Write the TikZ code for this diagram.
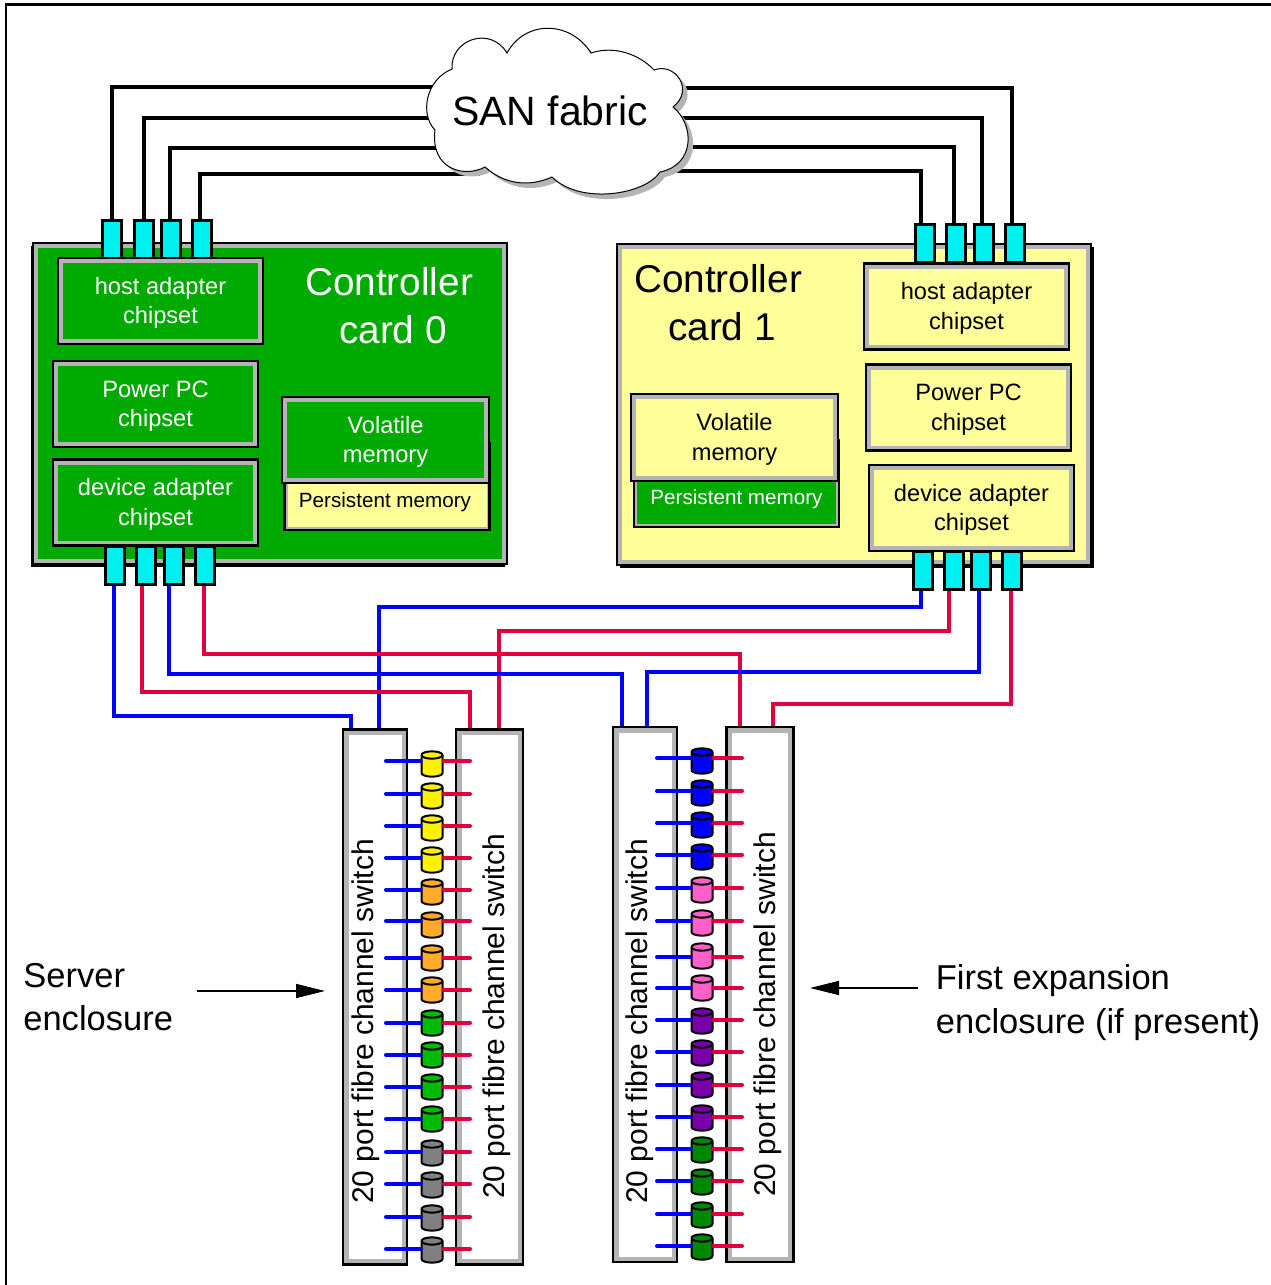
\documentclass[tikz,border=0pt]{standalone}
\usepackage{fontspec}
\setmainfont{Liberation Sans}
\usetikzlibrary{arrows.meta,shapes.geometric}
\definecolor{vert}{HTML}{00AA00}
\definecolor{jaune}{HTML}{FFFF99}
\definecolor{cyanport}{HTML}{00F0F0}
\definecolor{bezel}{HTML}{B4B4B4}
\definecolor{bleu}{HTML}{0000FF}
\definecolor{rouge}{HTML}{E0003C}
\definecolor{orange1}{HTML}{FFAA2B}
\definecolor{rose}{HTML}{FF5FC8}
\definecolor{vert1}{HTML}{00BB00}
\definecolor{gris}{HTML}{808080}
\definecolor{violet1}{HTML}{7700AA}
\definecolor{vert2}{HTML}{008800}
\newcommand\bigfont{\fontsize{22.05}{27.3}\selectfont}
\newcommand\chipfont{\fontsize{13.45}{16.9}\selectfont}
\newcommand\memfont{\fontsize{11.75}{14}\selectfont}
\newcommand\swfont{\fontsize{17.05}{20}\selectfont}
\newcommand\sidefont{\fontsize{19.65}{24.9}\selectfont}
\newcommand\chiptop{\rule{0pt}{12pt}}

\begin{document}
\begin{tikzpicture}[x=.02cm,y=-.02cm,
        sized/.style 2 args={minimum width=#1*.02cm,minimum height=#2*.02cm,inner sep=0pt},
        bevel/.style 2 args={draw=black,line width=#1,path picture={\draw[bezel,line width=#2] (path picture bounding box.south west) rectangle (path picture bounding box.north east);}},
        card/.style={bevel={.03cm}{.2cm},sized={474}{321}},
        chip/.style={bevel={.05cm}{.2cm},sized={205}{86},align=center,font=\chipfont},
        mem/.style={bevel={.05cm}{.12cm},sized={205}{87},text height=1.12cm,text depth=.3cm,font=\memfont},
        port/.style={draw=black,line width=.06cm,fill=cyanport,sized={19}{38}},
        switch/.style={bevel={.05cm}{.22cm},fill=white,sized={64}{535}},
        swtext/.style={rotate=90,inner sep=0pt,font=\swfont},
        disk/.style={shape=cylinder,shape border rotate=90,shape aspect=.35,draw=black,line width=.04cm,inner xsep=.21cm,inner ysep=.17cm,minimum height=.2cm,anchor=shape center},
        hwire/.style={black,line width=.08cm,line join=miter},
        bwire/.style={bleu,line width=.08cm},
        rwire/.style={rouge,line width=.08cm},
        stub/.style={line width=.08cm,line cap=round},
        pointer/.style={black,line width=.03cm,-{Triangle[length=.58cm,width=.28cm]}},
        cloud/.style={draw=black,line width=.02cm,fill=white,preaction={fill=bezel,transform canvas={xshift=.1cm,yshift=-.1cm}}}]%
        \useasboundingbox (0,0) rectangle (1271,1285); %%
        \draw[line width=.05cm] (1271,4.5)--(6,4.5)--(6,1285); %%
        % cards and their chipsets
        \node[card,fill=vert,preaction={fill=black,transform canvas={xshift=-.05cm,yshift=-.05cm}}] (card0) at (270,403.5) {}; %%
        \node[card,fill=jaune,preaction={fill=black,transform canvas={xshift=.05cm,yshift=-.05cm}}] (card1) at (854,404.5) {}; %%
        \begin{scope}
        \tikzstyle{every node}=[port] %%
        \node (h01) at (112,239) {}; %%
        \node (h02) at (143.5,239) {}; %%
        \node (h03) at (171,239) {}; %%
        \node (h04) at (202,239) {}; %%
        \node (d01) at (114.5,565) {}; %%
        \node (d02) at (145.5,565) {}; %%
        \node (d03) at (173.5,565) {}; %%
        \node (d04) at (204.5,565) {}; %%
        \node (h11) at (925,243.5) {}; %%
        \node (h12) at (956,243.5) {}; %%
        \node (h13) at (984,243.5) {}; %%
        \node (h14) at (1014.5,243.5) {}; %%
        \node (d11) at (922.5,570) {}; %%
        \node (d12) at (953.5,570) {}; %%
        \node (d13) at (981,570) {}; %%
        \node (d14) at (1012,570) {}; %%
        \end{scope}
        \node[mem,fill=jaune] (per0) at (387,486.5) {Persistent memory\hspace*{.08cm}}; %%
        \node[mem,fill=vert,text=white] (per1) at (736.5,483.5) {Persistent memory}; %%
        \begin{scope}
        \tikzstyle{every node}=[chip,fill=vert,text=white] %%
        \node (host0) at (160.5,301) {\chiptop host adapter\\chipset}; %%
        \node (ppc0) at (155.5,404) {\chiptop Power PC\\chipset}; %%
        \node (dev0) at (155.5,502.5) {\chiptop device adapter\\chipset}; %%
        \node[sized={207}{86}] (vol0) at (385.5,440) {\chiptop Volatile\\memory}; %%
        \end{scope}
        \begin{scope}
        \tikzstyle{every node}=[chip,fill=jaune] %%
        \node (host1) at (966.5,306.5) {\chiptop host adapter\\chipset}; %%
        \node (ppc1) at (968.5,407.5) {\chiptop Power PC\\chipset}; %%
        \node (dev1) at (971.5,508) {\chiptop device adapter\\chipset}; %%
        \node[sized={207}{87}] (vol1) at (734.5,437.5) {\chiptop Volatile\\memory}; %%
        \end{scope}
        \node[text=white,font=\bigfont,align=center,inner sep=0pt] (name0) at (389,306) {Controller\\\hspace*{.16cm}card 0}; %%
        \node[font=\bigfont,align=center,inner sep=0pt] (name1) at (718,303) {Controller\\\hspace*{.16cm}card 1}; %%
        % switches
        \node[switch] (swa) at (375,997) {}; %%
        \node[switch,sized={67}{535}] (swb) at (489.5,997) {}; %%
        \node[switch] (swc) at (645,994.5) {}; %%
        \node[switch,sized={67}{535}] (swd) at (760,994.5) {}; %%
        \node[swtext] (ta) at (366,1021.5) {20 port fibre channel switch}; %%
        \node[swtext] (tb) at (497,1016.5) {20 port fibre channel switch}; %%
        \node[swtext] (tc) at (640,1021.5) {20 port fibre channel switch}; %%
        \node[swtext] (td) at (768,1014.5) {20 port fibre channel switch}; %%
        % wires, black ones end under the cloud
        \coordinate (k01) at (112,87); \coordinate (c01) at (450,87); %%
        \coordinate (k02) at (143.5,118); \coordinate (c02) at (450,118); %%
        \coordinate (k03) at (170,148); \coordinate (c03) at (450,148); %%
        \coordinate (k04) at (199.5,174); \coordinate (c04) at (480,174); %%
        \coordinate (k11) at (921,171); \coordinate (c11) at (660,171); %%
        \coordinate (k12) at (954,147); \coordinate (c12) at (660,147); %%
        \coordinate (k13) at (982,118); \coordinate (c13) at (660,118); %%
        \coordinate (k14) at (1012,88); \coordinate (c14) at (660,88); %%
        \draw[hwire] (k01 |- h01.north)--(k01)--(c01); %%
        \draw[hwire] (k02 |- h02.north)--(k02)--(c02); %%
        \draw[hwire] (k03 |- h03.north)--(k03)--(c03); %%
        \draw[hwire] (k04 |- h04.north)--(k04)--(c04); %%
        \draw[hwire] (k11 |- h11.north)--(k11)--(c11); %%
        \draw[hwire] (k12 |- h12.north)--(k12)--(c12); %%
        \draw[hwire] (k13 |- h13.north)--(k13)--(c13); %%
        \draw[hwire] (k14 |- h14.north)--(k14)--(c14); %%
        \coordinate (m01) at (114,716); \coordinate (n01) at (351,716); %%
        \coordinate (m02) at (142,692); \coordinate (n02) at (470,692); %%
        \coordinate (m03) at (169,674); \coordinate (n03) at (622,674); %%
        \coordinate (m04) at (204,654); \coordinate (n04) at (740,654); %%
        \coordinate (m11) at (921,607); \coordinate (n11) at (379,607); %%
        \coordinate (m12) at (949,631); \coordinate (n12) at (499,631); %%
        \coordinate (m13) at (979,672); \coordinate (n13) at (647,672); %%
        \coordinate (m14) at (1011,704); \coordinate (n14) at (773,704); %%
        \draw[bwire] (m11 |- d11.south)--(m11)--(n11)--(n11 |- swa.north); %%
        \draw[rwire] (m12 |- d12.south)--(m12)--(n12)--(n12 |- swb.north); %%
        \draw[rwire] (m04 |- d04.south)--(m04)--(n04)--(n04 |- swd.north); %%
        \draw[bwire] (m03 |- d03.south)--(m03)--(n03)--(n03 |- swc.north); %%
        \draw[rwire] (m02 |- d02.south)--(m02)--(n02)--(n02 |- swb.north); %%
        \draw[bwire] (m01 |- d01.south)--(m01)--(n01)--(n01 |- swa.north); %%
        \draw[bwire] (m13 |- d13.south)--(m13)--(n13)--(n13 |- swc.north); %%
        \draw[rwire] (m14 |- d14.south)--(m14)--(n14)--(n14 |- swd.north); %%
        % cloud
        \path[cloud] (507,53) .. controls (525,20) and (570,20) .. (591,53)
                .. controls (615,45) and (640,55) .. (654,70)
                .. controls (675,62) and (695,90) .. (673,107)
                .. controls (695,125) and (695,165) .. (660,172)
                .. controls (645,195) and (580,205) .. (552,177)
                .. controls (530,187) and (505,185) .. (485,167)
                .. controls (465,178) and (430,170) .. (435,130)
                .. controls (420,115) and (425,80) .. (452,69)
                .. controls (450,40) and (490,25) .. (507,53) -- cycle; %%
        \node[font=\fontsize{23.3}{28}\selectfont,inner sep=0pt] (san) at (550,111) {SAN fabric}; %%
        % disks, server enclosure
        \foreach \i/\y/\z/\c in {1/761/764/yellow,2/794/796/yellow,3/826/828/yellow,4/858/860/yellow,
                5/890/892/orange1,6/921/925/orange1,7/958/958/orange1,8/990/990/orange1,
                9/1023/1023/vert1,10/1055/1055/vert1,11/1087/1087/vert1,12/1119/1119/vert1,
                13/1152/1153/gris,14/1184/1185/gris,15/1217/1218/gris,16/1249/1250/gris}{
        \node[disk,fill=\c] (da\i) at (432,\z) {}; %%
        \coordinate (la\i) at (386,\y); %%
        \coordinate (ra\i) at (470,\y); %%
        \draw[stub,bleu] (la\i)--(la\i -| da\i.west); %%
        \draw[stub,rouge] (ra\i)--(ra\i -| da\i.east); %%
        }
        % disks, expansion enclosure
        \foreach \i/\y/\z/\c in {1/758/761/bleu,2/791/793/bleu,3/823/825/bleu,4/855/857/bleu,
                5/888/890/rose,6/921/923/rose,7/957/956/rose,8/988/988/rose,
                9/1020/1021/violet1,10/1052/1053/violet1,11/1085/1085/violet1,12/1117/1118/violet1,
                13/1149/1150/vert2,14/1181/1182/vert2,15/1214/1215/vert2,16/1246/1247/vert2}{
        \node[disk,fill=\c] (db\i) at (702,\z) {}; %%
        \coordinate (lb\i) at (657,\y); %%
        \coordinate (rb\i) at (742,\y); %%
        \draw[stub,bleu] (lb\i)--(lb\i -| db\i.west); %%
        \draw[stub,rouge] (rb\i)--(rb\i -| db\i.east); %%
        }
        % side labels
        \node[font=\sidefont,align=left,anchor=west,inner sep=0pt] (srv) at (23,997) {Server\\enclosure}; %%
        \node[font=\sidefont,align=left,anchor=west,inner sep=0pt] (exp) at (935.5,1002.5) {First expansion\\enclosure (if present)}; %%
        \coordinate (p1) at (197,991); \coordinate (p2) at (325,991); %%
        \coordinate (p3) at (918,988); \coordinate (p4) at (810,988); %%
        \draw[pointer] (p1)--(p2); %%
        \draw[pointer] (p3)--(p4); %%
        \end{tikzpicture}
\end{document}
